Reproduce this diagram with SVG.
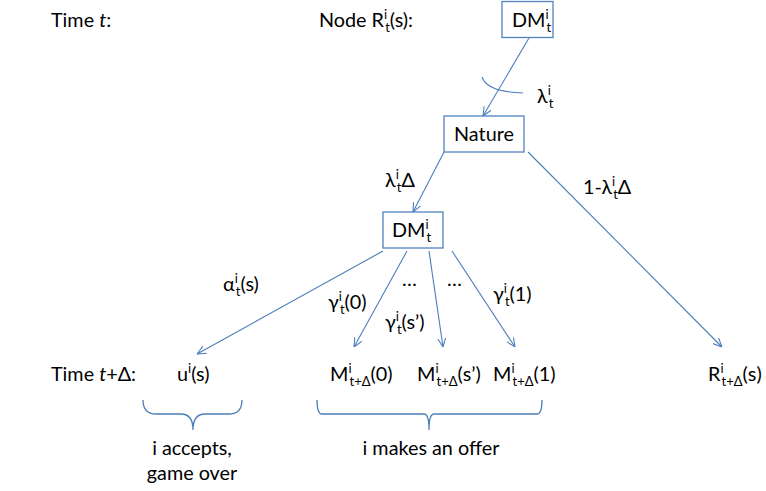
<svg xmlns="http://www.w3.org/2000/svg" width="766" height="491" viewBox="0 0 766 491">
  <style>
    text { font-family: Lato, "Open Sans", "Liberation Sans", sans-serif; font-size: 19.8px; fill: #000; }
    .sc { font-size: 13px; }
    .box { fill: #fff; stroke: #4F81BD; stroke-width: 1.3; }
    .edge { fill: none; stroke: #4A7EBB; stroke-width: 1.1; }
    .brace { fill: none; stroke: #4A7EBB; stroke-width: 1.3; }
  </style>
  <defs>
    <marker id="arrow" viewBox="0 0 10 10" refX="10" refY="5" markerWidth="9" markerHeight="9" markerUnits="userSpaceOnUse" orient="auto">
      <path d="M0,0.5 L10,5 L0,9.5" fill="none" stroke="#4A7EBB" stroke-width="1.2"/>
    </marker>
  </defs>
  <rect width="766" height="491" fill="#fff"/>

  <!-- row captions -->
  <text x="51" y="27">Time <tspan font-style="italic">t</tspan>:</text>
  <text x="319" y="27">Node R<tspan class="sc" dy="-8">i</tspan><tspan class="sc" dx="-2" dy="13">t</tspan><tspan dy="-5">(s):</tspan></text>
  <text x="51" y="381">Time <tspan font-style="italic">t</tspan>+Δ:</text>

  <!-- connectors -->
  <g id="connectors">
    <path class="edge" d="M529,38 L483,116" marker-end="url(#arrow)"/>
    <path class="edge" d="M482,77 Q487,92 523,93"/>
    <path class="edge" d="M444,152 L413,212" marker-end="url(#arrow)"/>
    <path class="edge" d="M528,152 L722,347" marker-end="url(#arrow)"/>
    <path class="edge" d="M383,251 L197,354" marker-end="url(#arrow)"/>
    <path class="edge" d="M407,251 L354,347" marker-end="url(#arrow)"/>
    <path class="edge" d="M429,251 L443,347" marker-end="url(#arrow)"/>
    <path class="edge" d="M452,251 L515,347" marker-end="url(#arrow)"/>
  </g>

  <!-- edge labels -->
  <g id="edge-labels">
    <text x="537" y="103">λ<tspan class="sc" dy="-8">i</tspan><tspan class="sc" dx="-2" dy="13">t</tspan></text>
    <text x="385" y="187">λ<tspan class="sc" dy="-8">i</tspan><tspan class="sc" dx="-2" dy="13">t</tspan><tspan dy="-5">Δ</tspan></text>
    <text x="583" y="194">1-λ<tspan class="sc" dy="-8">i</tspan><tspan class="sc" dx="-2" dy="13">t</tspan><tspan dy="-5">Δ</tspan></text>
    <text x="223" y="291">α<tspan class="sc" dy="-8">i</tspan><tspan class="sc" dx="-2" dy="13">t</tspan><tspan dy="-5">(s)</tspan></text>
    <text x="328" y="309">γ<tspan class="sc" dy="-8">i</tspan><tspan class="sc" dx="-2" dy="13">t</tspan><tspan dy="-5">(0)</tspan></text>
    <text x="385" y="329">γ<tspan class="sc" dy="-8">i</tspan><tspan class="sc" dx="-2" dy="13">t</tspan><tspan dy="-5">(s’)</tspan></text>
    <text x="493" y="301">γ<tspan class="sc" dy="-8">i</tspan><tspan class="sc" dx="-2" dy="13">t</tspan><tspan dy="-5">(1)</tspan></text>
    <text x="402" y="286" font-size="14">…</text>
    <text x="447" y="286" font-size="14">…</text>
  </g>

  <!-- nodes -->
  <g id="dm-top">
    <rect class="box" x="502" y="1.5" width="51" height="36"/>
    <text x="512" y="27">DM<tspan class="sc" dy="-8">i</tspan><tspan class="sc" dx="-2" dy="13">t</tspan></text>
  </g>
  <g id="nature">
    <rect class="box" x="444" y="116" width="80" height="36"/>
    <text x="484" y="141" text-anchor="middle">Nature</text>
  </g>
  <g id="dm-mid">
    <rect class="box" x="383" y="212" width="60" height="36"/>
    <text x="392" y="237">DM<tspan class="sc" dy="-8">i</tspan><tspan class="sc" dx="-2" dy="13">t</tspan></text>
  </g>
  <g id="payoff">
    <text x="177" y="381">u<tspan class="sc" dy="-8">i</tspan><tspan dy="8">(s)</tspan></text>
  </g>
  <g id="offer-0">
    <text x="330" y="381">M<tspan class="sc" dy="-8">i</tspan><tspan class="sc" dx="-2" dy="13">t+Δ</tspan><tspan dy="-5">(0)</tspan></text>
  </g>
  <g id="offer-s">
    <text x="417" y="381">M<tspan class="sc" dy="-8">i</tspan><tspan class="sc" dx="-2" dy="13">t+Δ</tspan><tspan dy="-5">(s’)</tspan></text>
  </g>
  <g id="offer-1">
    <text x="493" y="381">M<tspan class="sc" dy="-8">i</tspan><tspan class="sc" dx="-2" dy="13">t+Δ</tspan><tspan dy="-5">(1)</tspan></text>
  </g>
  <g id="next-node">
    <text x="708" y="381">R<tspan class="sc" dy="-8">i</tspan><tspan class="sc" dx="-2" dy="13">t+Δ</tspan><tspan dy="-5">(s)</tspan></text>
  </g>

  <!-- outcome groupings -->
  <g id="accept-group">
    <path class="brace" d="M143,400 Q143,414 156,414 L181,414 Q193,414 193,430 Q193,414 205,414 L229,414 Q242,414 242,400"/>
    <text x="192" y="455" text-anchor="middle">i accepts,</text>
    <text x="192" y="480" text-anchor="middle">game over</text>
  </g>
  <g id="offer-group">
    <path class="brace" d="M317,400 Q317,414 322,414 L424,414 Q429,414 429,430 Q429,414 434,414 L537,414 Q542,414 542,400"/>
    <text x="431" y="455" text-anchor="middle">i makes an offer</text>
  </g>
</svg>
